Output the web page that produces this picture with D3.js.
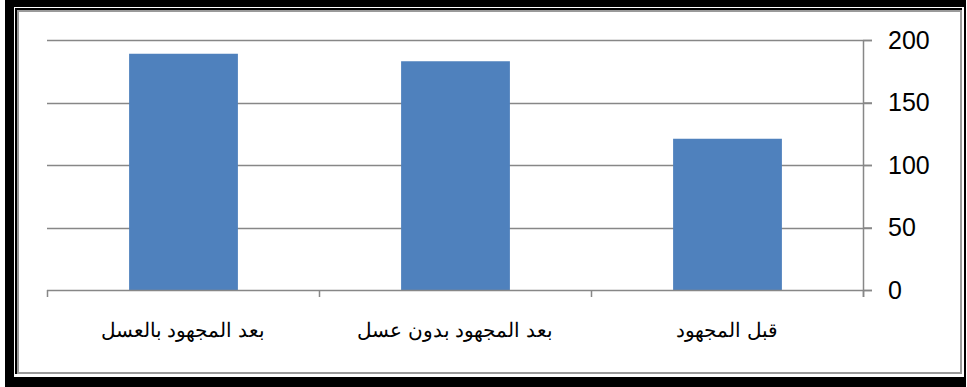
<!DOCTYPE html>
<html lang="ar">
<head>
<meta charset="utf-8">
<script src="https://cdn.jsdelivr.net/npm/d3@7"></script>
<style>
  html, body { margin: 0; padding: 0; background: #fff; }
  svg { display: block; }
</style>
</head>
<body>
<svg id="chart" width="967" height="387"></svg>
<script>
// Categories read right-to-left, as in the Arabic layout
const categories = ["قبل المجهود", "بعد المجهود بدون عسل", "بعد المجهود بالعسل"];
const values = [121, 183, 189];
const yTicks = [0, 50, 100, 150, 200];

const svg = d3.select("#chart");

// Frame: thick black outer border, thin inner black line, gray box
svg.append("rect").attr("x", 5).attr("y", 0).attr("width", 961).attr("height", 387).attr("fill", "#000");
svg.append("rect").attr("x", 14).attr("y", 7).attr("width", 950).attr("height", 370).attr("fill", "#fff");
svg.append("rect").attr("x", 15).attr("y", 8).attr("width", 947).attr("height", 366).attr("fill", "#000");
svg.append("rect").attr("x", 18).attr("y", 11).attr("width", 943).attr("height", 362)
  .attr("fill", "#fff").attr("stroke", "#9a9a9a").attr("stroke-width", 2);

const plotLeft = 47, plotRight = 863, plotTop = 40, plotBottom = 290;

const x = d3.scaleBand().domain(categories).range([plotRight, plotLeft]).paddingInner(0.6).paddingOuter(0.3);
const y = d3.scaleLinear().domain([0, 200]).range([plotBottom, plotTop]);

const gridColor = "#878787";

// Horizontal gridlines, extending out past the right axis as tick marks
svg.append("g").selectAll("line").data(yTicks.filter(d => d > 0)).join("line")
  .attr("x1", plotLeft).attr("x2", plotRight + 9)
  .attr("y1", d => Math.round(y(d)) + 0.5).attr("y2", d => Math.round(y(d)) + 0.5)
  .attr("stroke", gridColor).attr("stroke-width", 1.5);

// Bars
svg.append("g").selectAll("rect").data(values).join("rect")
  .attr("x", (d, i) => x(categories[i]) + 0.5)
  .attr("y", d => y(d))
  .attr("width", x.bandwidth())
  .attr("height", d => y(0) - y(d))
  .attr("fill", "#4F81BD");

// Right-hand value axis
const yAxis = d3.axisRight(y).tickValues(yTicks).tickSize(9).tickPadding(16).tickFormat(d3.format("d"));
const gy = svg.append("g").attr("transform", `translate(${plotRight},0)`).call(yAxis);
gy.select(".domain").attr("stroke", gridColor).attr("stroke-width", 1.5).attr("d", `M0.5,${plotTop}V${plotBottom + 7}`);
gy.selectAll(".tick line").attr("stroke", gridColor).attr("stroke-width", 1.5);
gy.selectAll(".tick text")
  .attr("font-family", "'Liberation Sans', Arial, sans-serif")
  .attr("font-size", 25).attr("fill", "#000");

// Category axis along the baseline
const bounds = [plotLeft, plotLeft + (plotRight - plotLeft) / 3, plotLeft + 2 * (plotRight - plotLeft) / 3, plotRight];
svg.append("line").attr("x1", plotLeft).attr("x2", plotRight + 9)
  .attr("y1", plotBottom + 0.5).attr("y2", plotBottom + 0.5)
  .attr("stroke", gridColor).attr("stroke-width", 1.5);
svg.append("g").selectAll("line").data(bounds).join("line")
  .attr("x1", d => Math.round(d) + 0.5).attr("x2", d => Math.round(d) + 0.5)
  .attr("y1", plotBottom).attr("y2", plotBottom + 7)
  .attr("stroke", gridColor).attr("stroke-width", 1.5);

svg.append("g").selectAll("text").data(categories).join("text")
  .attr("x", d => x(d) + x.bandwidth() / 2)
  .attr("y", 337)
  .attr("text-anchor", "middle")
  .attr("direction", "rtl")
  .attr("font-family", "'Liberation Sans', Arial, sans-serif")
  .attr("font-size", 20).attr("fill", "#000")
  .text(d => d);
</script>
</body>
</html>
